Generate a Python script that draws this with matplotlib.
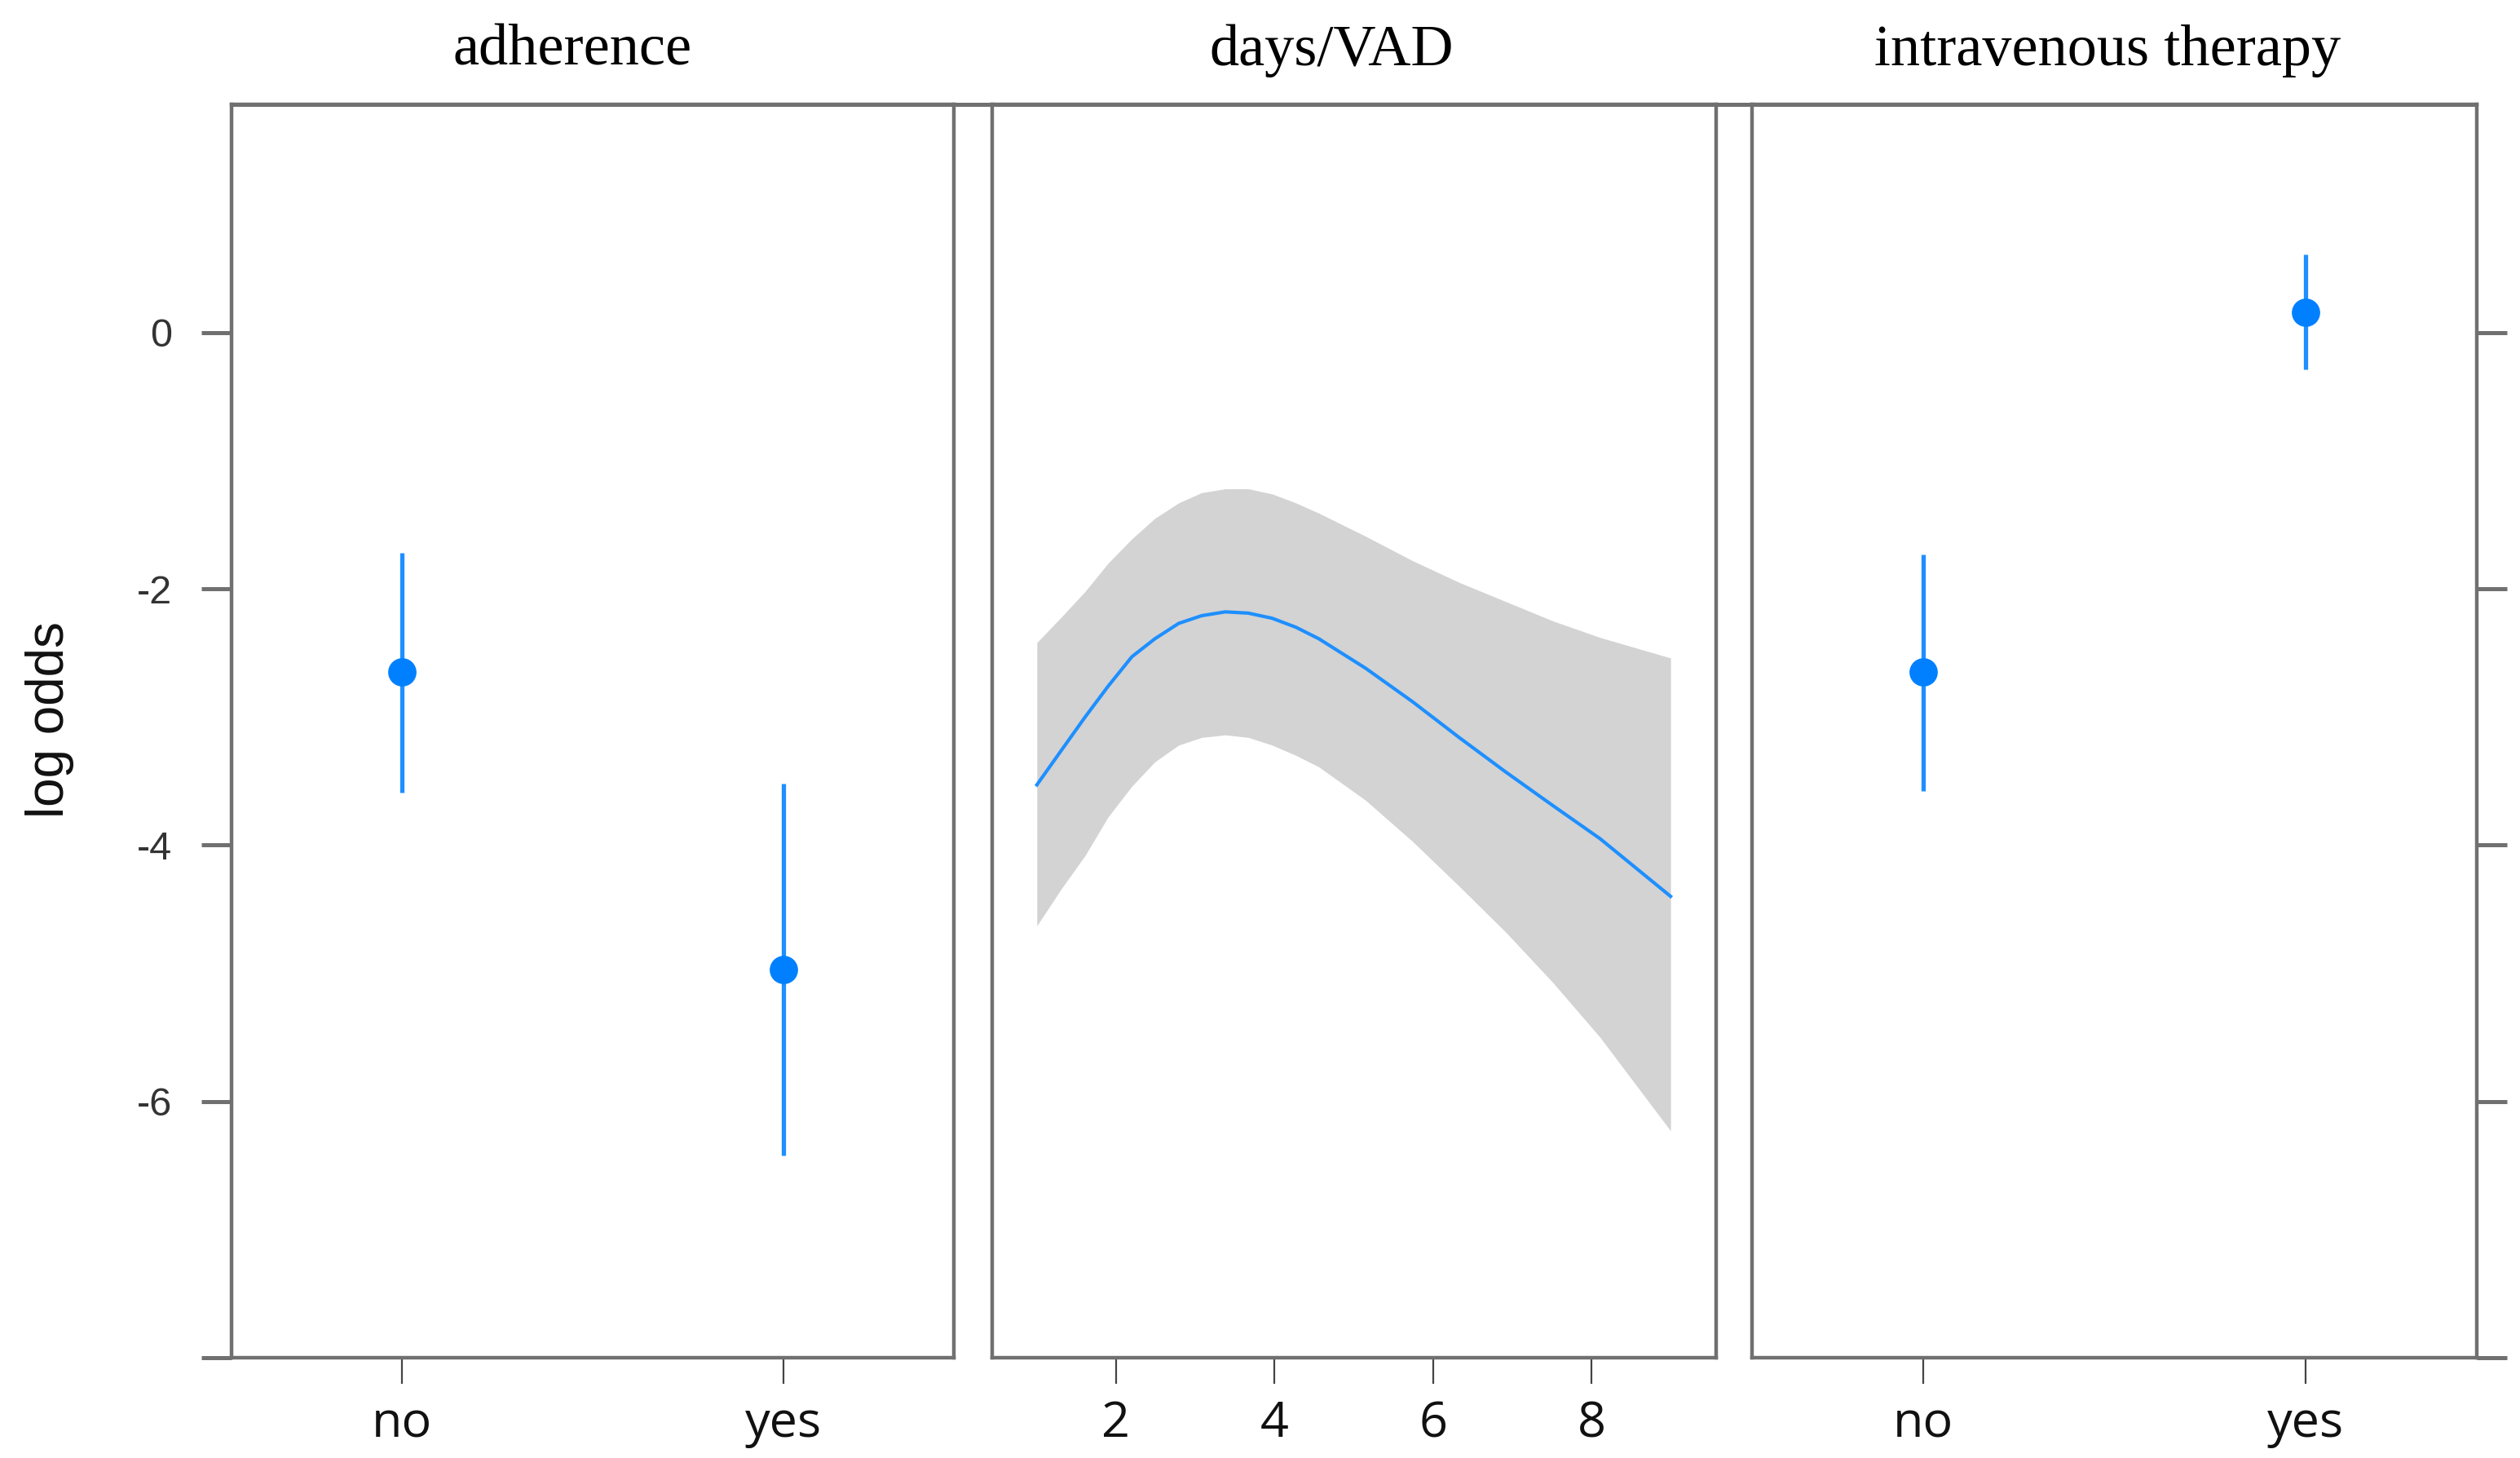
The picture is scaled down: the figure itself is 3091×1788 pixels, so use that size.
import matplotlib
matplotlib.use('Agg')
import matplotlib.pyplot as plt
from matplotlib.lines import Line2D

# ---------------- data ----------------
titles = ['adherence', 'days/VAD', 'intravenous therapy']

adh_levels = ['no', 'yes']
adh_fit = [-2.65, -4.97]
adh_lower = [-3.59, -6.42]
adh_upper = [-1.72, -3.52]

days_x = [1.0, 1.31, 1.61, 1.90, 2.20, 2.49, 2.79, 3.08, 3.38, 3.67,
          3.97, 4.27, 4.56, 5.15, 5.74, 6.33, 6.92, 7.51, 8.11, 9.0]
days_fit = [-3.53, -3.26, -3.00, -2.76, -2.53, -2.39, -2.27, -2.21, -2.18, -2.19,
            -2.23, -2.30, -2.39, -2.62, -2.88, -3.16, -3.43, -3.69, -3.95, -4.40]
days_upper = [-2.42, -2.22, -2.02, -1.80, -1.61, -1.45, -1.33, -1.25, -1.22, -1.22,
              -1.26, -1.33, -1.41, -1.59, -1.78, -1.95, -2.10, -2.25, -2.38, -2.54]
days_lower = [-4.63, -4.34, -4.08, -3.78, -3.54, -3.35, -3.22, -3.16, -3.14, -3.16,
              -3.22, -3.30, -3.39, -3.65, -3.97, -4.32, -4.68, -5.07, -5.50, -6.23]

iv_levels = ['no', 'yes']
iv_fit = [-2.65, 0.16]
iv_lower = [-3.58, -0.29]
iv_upper = [-1.73, 0.61]

y_ticks = [0, -2, -4, -6, -8]
y_tick_labels = ['0', '-2', '-4', '-6', '']
days_ticks = [2, 4, 6, 8]
ylabel = 'log odds'

# ---------------- layout ----------------
W, H, DPI = 3091, 1788, 200
fig = plt.figure(figsize=(W / DPI, H / DPI), dpi=DPI)
fig.patch.set_facecolor('white')

lefts = [284, 1217, 2149]
rights = [1170, 2105, 3038]
top_px, bot_px = 128, 1665
frame_col = '#707070'
frame_lw = 1.6
line_col = '#1E8FFF'
pt_col = '#0080FF'

axes = []
for l, r in zip(lefts, rights):
    ax = fig.add_axes([l / W, 1 - bot_px / H, (r - l) / W, (bot_px - top_px) / H])
    ax.set_ylim(-8.0, 1.78)
    for s in ax.spines.values():
        s.set_color(frame_col)
        s.set_linewidth(frame_lw)
    ax.tick_params(axis='x', direction='out', length=11.5, width=0.8,
                   color='#444444', pad=7, labelsize=22, labelcolor='#111111')
    axes.append(ax)

ax1, ax2, ax3 = axes

# categorical panels
def cat_panel(ax, levels, fit, lower, upper):
    pos = list(range(1, len(levels) + 1))
    ax.vlines(pos, lower, upper, color=line_col, lw=1.9, zorder=2)
    ax.plot(pos, fit, 'o', color=pt_col, ms=11.5, zorder=3)
    ax.set_xlim(0.553, 2.447)
    ax.set_xticks(pos)
    ax.set_xticklabels(levels, family='Open Sans', fontsize=22)

cat_panel(ax1, adh_levels, adh_fit, adh_lower, adh_upper)
cat_panel(ax3, iv_levels, iv_fit, iv_lower, iv_upper)

# continuous panel
ax2.fill_between(days_x, days_lower, days_upper, color='#D3D3D3', lw=0, zorder=1)
ax2.plot(days_x, days_fit, color=line_col, lw=1.5, zorder=2)
ax2.set_xlim(0.436, 9.575)
ax2.set_xticks(days_ticks)
ax2.set_xticklabels([str(t) for t in days_ticks], family='Open Sans', fontsize=22)

# y axes
ax1.set_yticks(y_ticks)
ax1.set_yticklabels(y_tick_labels, family='Liberation Sans', fontsize=17.5)
ax1.tick_params(axis='y', direction='out', length=13.3, width=1.8,
                color=frame_col, pad=13, labelcolor='#333333')
ax2.set_yticks([])
ax3.yaxis.tick_right()
ax3.set_yticks(y_ticks)
ax3.tick_params(axis='y', direction='out', length=13.3, width=1.8,
                color=frame_col, labelright=False, labelleft=False)

# continuous top line across panels
fig.add_artist(Line2D([lefts[0] / W, rights[-1] / W], [1 - top_px / H, 1 - top_px / H],
                      transform=fig.transFigure, color=frame_col, lw=frame_lw + 0.2,
                      solid_capstyle='butt'))

# titles
title_x = [702, 1633, 2585]
for t, x in zip(titles, title_x):
    fig.text(x / W, 1 - 80 / H, t, ha='center', va='baseline',
             family='Liberation Serif', fontsize=26, color='black')

fig.text(61 / W, 1 - 883 / H, ylabel, rotation=90, ha='center', va='center',
         family='Liberation Sans', fontsize=23, color='#111111')

fig.savefig('out.png', dpi=DPI, facecolor='white')
